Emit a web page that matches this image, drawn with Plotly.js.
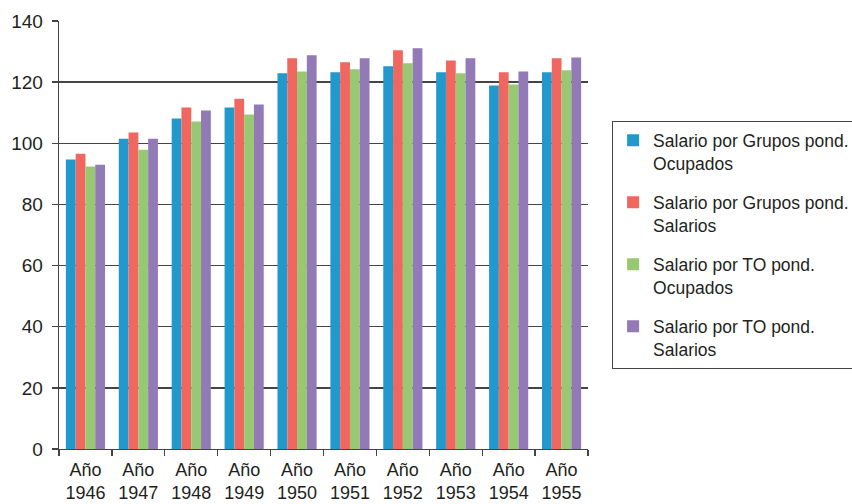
<!DOCTYPE html>
<html>
<head>
<meta charset="utf-8">
<script src="https://cdn.plot.ly/plotly-3.0.1.min.js"></script>
<style>html,body{margin:0;padding:0;background:#fff;}#chart{width:852px;height:504px;}</style>
</head>
<body>
<div id="chart"></div>
<script>
var years = ["1946","1947","1948","1949","1950","1951","1952","1953","1954","1955"];
var tickLabels = ["Año<br>1946","Año<br>1947","Año<br>1948","Año<br>1949","Año<br>1950","Año<br>1951","Año<br>1952","Año<br>1953","Año<br>1954","Año<br>1955"];
var seriesNames = ["Salario por Grupos pond.<br>Ocupados","Salario por Grupos pond.<br>Salarios","Salario por TO pond.<br>Ocupados","Salario por TO pond.<br>Salarios"];
var grupoOcupados = [94.7,101.5,108.1,111.7,122.9,123.2,125.2,123.2,118.9,123.2];
var grupoSalarios = [96.6,103.5,111.7,114.6,127.8,126.5,130.4,127.1,123.2,127.8];
var toOcupados    = [92.4,97.9,107.1,109.4,123.5,124.2,126.2,122.9,119.2,123.9];
var toSalarios    = [93.0,101.5,110.7,112.7,128.8,127.8,131.1,127.8,123.5,128.1];
var colors = ["#2199CC","#F0675F","#99C873","#917AB5"];
var allSeries = [grupoOcupados, grupoSalarios, toOcupados, toSalarios];

var traces = allSeries.map(function(vals, i){
  return {
    type: "bar",
    x: tickLabels,
    y: vals,
    name: seriesNames[i],
    legendgroup: "g" + i,
    marker: {color: colors[i], line: {width: 0}},
    hoverinfo: "y"
  };
});

var layout = {
  width: 852, height: 504,
  margin: {l: 59, r: 264, t: 21, b: 55, autoexpand: false},
  paper_bgcolor: "#ffffff",
  plot_bgcolor: "#ffffff",
  font: {family: "Liberation Sans, Arial, sans-serif", size: 19, color: "#231f20"},
  barmode: "group",
  bargap: 0.26,
  bargroupgap: 0,
  showlegend: true,
  xaxis: {
    type: "category",
    showline: true, linecolor: "#444444", linewidth: 1.3,
    ticks: "outside", tickson: "boundaries", ticklen: 6, tickcolor: "#444444", tickwidth: 1.3,
    showgrid: false, zeroline: false,
    ticklabelstandoff: 4,
    tickfont: {size: 18, color: "#231f20"}
  },
  yaxis: {
    range: [0, 140], dtick: 20, tick0: 0,
    showline: true, linecolor: "#444444", linewidth: 1.3,
    ticks: "outside", ticklen: 6, tickcolor: "#444444", tickwidth: 1.3,
    showgrid: true, gridcolor: "#444444", gridwidth: 1.3,
    zeroline: false,
    ticklabelstandoff: 5,
    tickfont: {size: 19, color: "#231f20"}
  },
  legend: {
    x: 1.045, y: 0.766, xanchor: "left", yanchor: "top",
    bordercolor: "#444444", borderwidth: 1.3, bgcolor: "#ffffff",
    traceorder: "grouped", tracegroupgap: 13.5, valign: "top",
    font: {size: 17.5, color: "#231f20"}
  }
};

Plotly.newPlot("chart", traces, layout, {displayModeBar: false, staticPlot: true});
</script>
</body>
</html>
